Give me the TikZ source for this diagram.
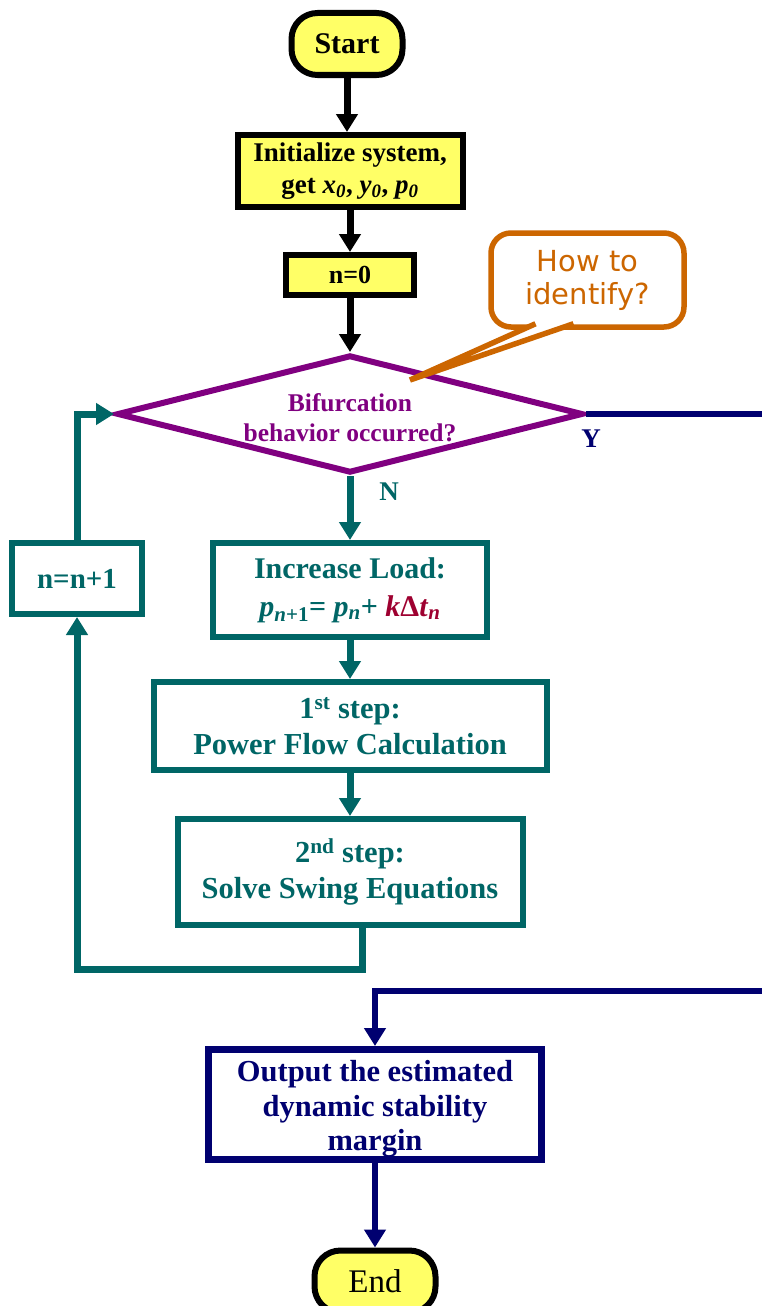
\documentclass[tikz,border=0pt]{standalone}
\usepackage{fontspec}
\setmainfont{Liberation Serif}
\newfontfamily\calloutfont{DejaVu Sans}
\usetikzlibrary{arrows.meta, positioning, shapes.geometric}
\definecolor{flowyellow}{HTML}{FFFF66}
\definecolor{flowteal}{HTML}{006666}
\definecolor{flownavy}{HTML}{000070}
\definecolor{flowpurple}{HTML}{800080}
\definecolor{flowred}{HTML}{9E0030}
\definecolor{floworange}{HTML}{CC6600}
\newcommand{\fsz}[2]{\fontsize{#1}{#2}\selectfont}

\begin{document}
\begin{tikzpicture}[x=1pt, y=1pt, >={Triangle[width=21pt, length=18pt]},
    terminal/.style={draw=black, line width=6pt, fill=flowyellow, rounded corners=26pt,
      inner sep=0pt, minimum height=62pt},
    yellowbox/.style={draw=black, line width=6pt, fill=flowyellow, inner sep=0pt,
      align=center, font=\bfseries\fsz{27}{32}},
    tealbox/.style={draw=flowteal, line width=6pt, fill=white, inner sep=0pt,
      align=center, text=flowteal, font=\bfseries\fsz{30.5}{36}},
    navybox/.style={draw=flownavy, line width=6.5pt, fill=white, inner sep=0pt,
      align=center, text=flownavy, font=\bfseries\fsz{30.5}{34.5}},
    decision/.style={diamond, aspect=4, draw=flowpurple, line width=6pt, fill=white,
      inner sep=0pt, align=center, text=flowpurple, font=\bfseries\fsz{25.5}{30}},
    bubble/.style={draw=floworange, line width=5.5pt, fill=white, rounded corners=20pt,
      inner sep=0pt, align=center, text=floworange, font=\calloutfont\fsz{29}{33}},
    blackline/.style={draw=black, line width=7pt},
    tealline/.style={draw=flowteal, line width=7pt},
    navyline/.style={draw=flownavy, line width=6pt},
    branch/.style={font=\bfseries\fsz{27}{30}}]
  \path[use as bounding box] (0,0) rectangle (762,-1306);
  \clip (0,0) rectangle (762,-1306);

  % main column
  \node[terminal, minimum width=111pt, font=\bfseries\fsz{30}{34}] (start) at (347,-44) {Start};
  \node[yellowbox, minimum width=225pt, minimum height=72pt, below=54pt of start, xshift=3pt] (init)
    {Initialize system,\\get \textit{x}\textsubscript{\textit{0}}, \textit{y}\textsubscript{\textit{0}}, \textit{p}\textsubscript{\textit{0}}};
  \node[yellowbox, minimum width=128pt, minimum height=40pt, font=\bfseries\fsz{26}{30},
    below=42pt of init] (nzero) {n=0};
  \node[decision, minimum width=466pt, minimum height=118pt, below=54pt of nzero] (bif)
    {\rule{0pt}{25pt}Bifurcation\\behavior occurred?};
  \node[tealbox, minimum width=274pt, minimum height=94pt, font=\bfseries\fsz{30}{38},
    below=64pt of bif] (load)
    {Increase Load:\\\textit{p}\textsubscript{\textit{n}+1}= \textit{p}\textsubscript{\textit{n}}+ \textcolor{flowred}{\textit{k}Δ\textit{t}\textsubscript{\textit{n}}}};
  \node[tealbox, minimum width=393pt, minimum height=88pt, below=39pt of load] (pflow)
    {1\textsuperscript{st} step:\\Power Flow Calculation};
  \node[tealbox, minimum width=345pt, minimum height=106pt, below=43pt of pflow] (swing)
    {2\textsuperscript{nd} step:\\Solve Swing Equations};
  \node[tealbox, minimum width=130pt, minimum height=71pt, font=\bfseries\fsz{29}{34}]
    (incn) at (77,-578.5) {n=n+1};
  \node[navybox, minimum width=333pt, minimum height=110pt, below=118pt of swing, xshift=25pt]
    (output) {\rule{0pt}{31pt}Output the estimated\\dynamic stability\\margin};
  \node[terminal, minimum width=121pt, font=\fsz{33}{36}, below=85pt of output] (stop) {End};

  % connectors
  \draw[blackline, ->] (start) -- (start |- init.north);
  \draw[blackline, ->] (init) -- (nzero);
  \draw[blackline, ->] (nzero) -- (bif);
  \draw[tealline, ->] (bif) -- (load);
  \draw[tealline, ->] (load) -- (pflow);
  \draw[tealline, ->] (pflow) -- (swing);
  \draw[tealline, ->] ([xshift=12pt]swing.south) -- ++(0,-41) -| (incn.south);
  \draw[tealline, ->] (incn.north) |- (bif.west);
  \draw[navyline, ->] (bif.east) -| (790,-991) -| (output.north);
  \draw[navyline, ->] (output) -- (stop);
  \node[branch, text=flownavy] (yes) at ([shift={(5,-25)}]bif.east) {Y};
  \node[branch, text=flowteal] (no) at ([shift={(39,-16)}]bif.south) {N};

  % callout
  \node[bubble, minimum width=193pt, minimum height=94pt] (ask) at (587.5,-280) {How to\\identify?};
  \coordinate (asktip) at (410,-380);
  \filldraw[draw=floworange, fill=white, line width=5.5pt, line join=bevel]
    ([xshift=-52pt, yshift=6pt]ask.south) -- (asktip) -- ([xshift=-14pt, yshift=6pt]ask.south);
\end{tikzpicture}
\end{document}
